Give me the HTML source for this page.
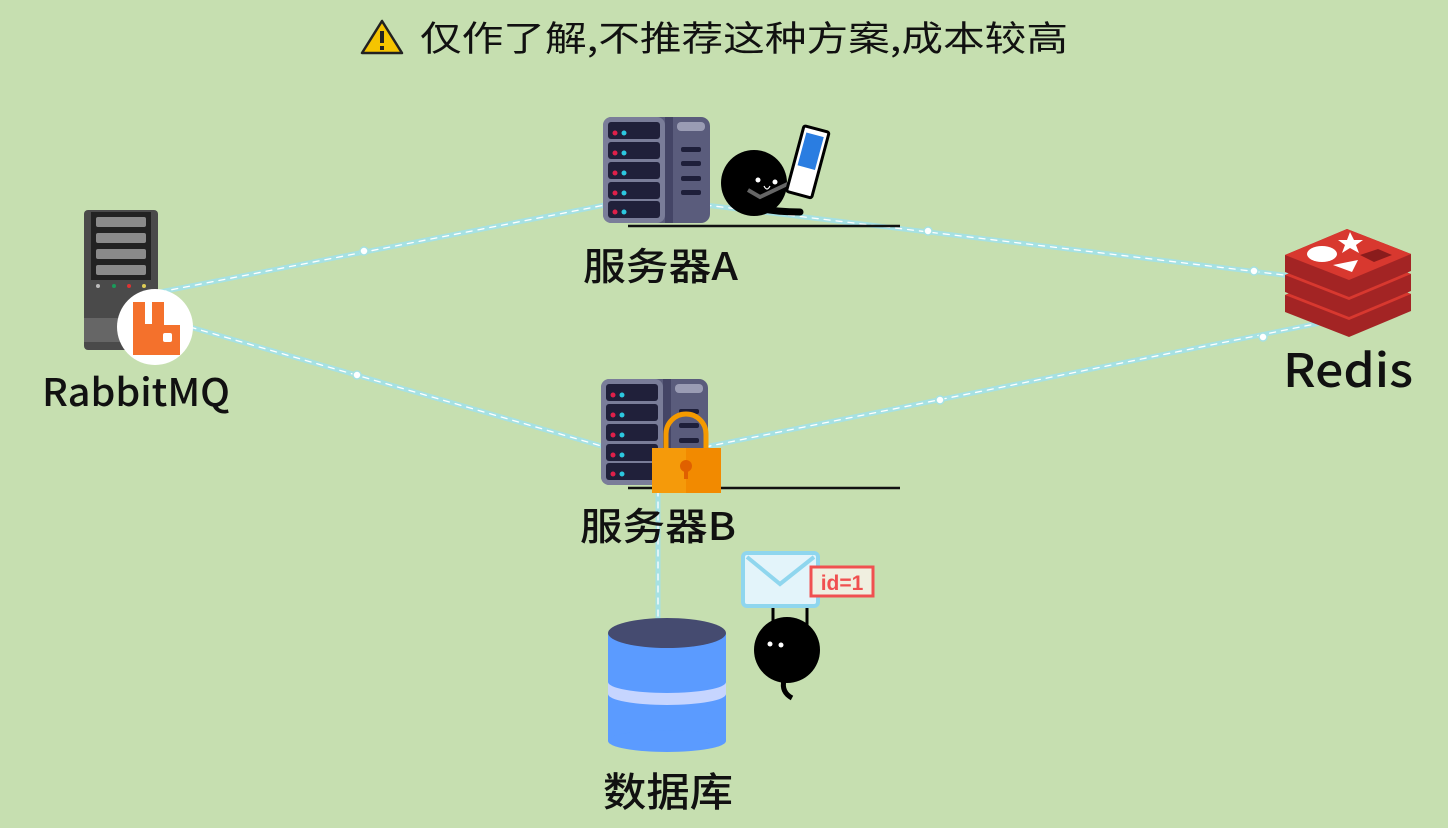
<!DOCTYPE html>
<html><head><meta charset="utf-8"><style>
html,body{margin:0;padding:0;width:1448px;height:828px;overflow:hidden;background:#c6dfb0}
svg text{font-family:"Noto Sans CJK SC","Liberation Sans",sans-serif;font-weight:500}
</style></head><body>
<svg width="1448" height="828" viewBox="0 0 1448 828" xmlns="http://www.w3.org/2000/svg">
<rect width="1448" height="828" fill="#c6dfb0"/>
<!-- title -->
<polygon points="382,21 362,53 402,53" fill="#f5c400" stroke="#222" stroke-width="2.5" stroke-linejoin="round"/>
<rect x="380" y="31" width="4" height="12" fill="#222"/><rect x="380" y="46" width="4" height="4" fill="#222"/>
<text x="420" y="51" font-size="35" fill="#111" style="font-weight:400" textLength="648" lengthAdjust="spacingAndGlyphs">仅作了解,不推荐这种方案,成本较高</text>
<!-- lines -->
<g fill="none" stroke-linecap="round">
<g stroke="#a6e1e3" stroke-width="5">
<line x1="160" y1="292" x2="605" y2="205"/>
<line x1="190" y1="327" x2="605" y2="447"/>
<line x1="705" y1="205" x2="1292" y2="276"/>
<line x1="705" y1="447" x2="1320" y2="323"/>
<line x1="658" y1="490" x2="658" y2="620"/>
</g>
<g stroke="#fff" stroke-width="1.3" stroke-dasharray="6 6">
<line x1="160" y1="292" x2="605" y2="205"/>
<line x1="190" y1="327" x2="605" y2="447"/>
<line x1="705" y1="205" x2="1292" y2="276"/>
<line x1="705" y1="447" x2="1320" y2="323"/>
<line x1="658" y1="490" x2="658" y2="620"/>
</g>
</g>
<g fill="#fff" stroke="#a6e1e3" stroke-width="1.5">
<circle cx="364" cy="251" r="4"/><circle cx="357" cy="375" r="4"/><circle cx="928" cy="231" r="4"/><circle cx="1254" cy="271" r="4"/><circle cx="940" cy="400" r="4"/><circle cx="1263" cy="337" r="4"/>
</g>
<!-- RabbitMQ server -->
<rect x="84" y="210" width="74" height="140" rx="4" fill="#4a4a4a"/>
<rect x="91" y="212" width="60" height="68" fill="#222"/>
<g fill="#8a8a8a"><rect x="96" y="217" width="50" height="10" rx="2"/><rect x="96" y="233" width="50" height="10" rx="2"/><rect x="96" y="249" width="50" height="10" rx="2"/><rect x="96" y="265" width="50" height="10" rx="2"/></g>
<circle cx="98" cy="286" r="2" fill="#bbb"/><circle cx="114" cy="286" r="2" fill="#1a9a5a"/><circle cx="129" cy="286" r="2" fill="#d33"/><circle cx="144" cy="286" r="2" fill="#dc5"/>
<rect x="84" y="318" width="74" height="24" fill="#666"/>
<circle cx="155" cy="327" r="38" fill="#fff"/>
<path d="M133,302 h12 v22 h7 v-22 h12 v23 h16 v30 h-47 z" fill="#f4712c"/>
<rect x="163" y="333" width="9" height="9" rx="2" fill="#fff"/>
<text x="42" y="406" font-size="38" fill="#111" textLength="188" lengthAdjust="spacingAndGlyphs">RabbitMQ</text>
<!-- server A -->
<g id="srv">
<rect x="603" y="117" width="107" height="106" rx="9" fill="#5a5c7c"/>
<rect x="603" y="117" width="62" height="106" rx="8" fill="#7a7d99"/>
<rect x="665" y="117" width="8" height="106" fill="#444566"/>
<g fill="#20203a"><rect x="608" y="122" width="52" height="17" rx="3"/><rect x="608" y="142" width="52" height="17" rx="3"/><rect x="608" y="162" width="52" height="17" rx="3"/><rect x="608" y="182" width="52" height="17" rx="3"/><rect x="608" y="201" width="52" height="17" rx="3"/></g>
<g fill="#e0204a"><circle cx="615" cy="133" r="2.5"/><circle cx="615" cy="153" r="2.5"/><circle cx="615" cy="173" r="2.5"/><circle cx="615" cy="193" r="2.5"/><circle cx="615" cy="212" r="2.5"/></g>
<g fill="#2cc8e0"><circle cx="624" cy="133" r="2.5"/><circle cx="624" cy="153" r="2.5"/><circle cx="624" cy="173" r="2.5"/><circle cx="624" cy="193" r="2.5"/><circle cx="624" cy="212" r="2.5"/></g>
<rect x="677" y="122" width="28" height="9" rx="4" fill="#9a9cb4"/>
<g fill="#1e1f3a"><rect x="681" y="147" width="20" height="5" rx="2"/><rect x="681" y="161" width="20" height="5" rx="2"/><rect x="681" y="176" width="20" height="5" rx="2"/><rect x="681" y="190" width="20" height="5" rx="2"/></g>
</g>
<line x1="628" y1="226" x2="900" y2="226" stroke="#111" stroke-width="2.5"/>
<!-- character A -->
<circle cx="754" cy="183" r="33" fill="#000"/>
<path d="M745,204 q20,8 55,8" stroke="#000" stroke-width="7" fill="none" stroke-linecap="round"/>
<circle cx="758" cy="180" r="2.5" fill="#fff"/><circle cx="775" cy="182" r="2.5" fill="#fff"/>
<path d="M764,186 q3,6 6,0" stroke="#fff" stroke-width="1.2" fill="none"/>
<path d="M748,190 l12,7 l38,-18" stroke="#666" stroke-width="4" fill="none"/>
<g transform="rotate(15 808 165)"><rect x="794" y="128" width="26" height="68" rx="2" fill="#fff" stroke="#000" stroke-width="3"/><rect x="798" y="134" width="18" height="34" fill="#2a7de1"/></g>
<text x="583" y="280" font-size="38" fill="#111" textLength="155" lengthAdjust="spacingAndGlyphs">服务器A</text>
<!-- server B -->
<use href="#srv" transform="translate(-2,262)"/>
<line x1="628" y1="488" x2="900" y2="488" stroke="#111" stroke-width="2.5"/>
<path d="M666,450 v-16 a20,20 0 0 1 40,0 v16" fill="none" stroke="#f59a00" stroke-width="5"/>
<rect x="652" y="448" width="69" height="45" fill="#f59a0a"/>
<rect x="686" y="448" width="35" height="45" fill="#f28a00"/>
<circle cx="686" cy="466" r="6" fill="#e06000"/><rect x="684" y="466" width="4" height="13" fill="#e06000"/>
<text x="580" y="540" font-size="38" fill="#111" textLength="156" lengthAdjust="spacingAndGlyphs">服务器B</text>
<!-- envelope character -->
<rect x="743" y="553" width="75" height="53" rx="4" fill="#e3f4fa" stroke="#8fd6ee" stroke-width="4"/>
<path d="M747,557 l33,27 l34,-27" fill="none" stroke="#8fd6ee" stroke-width="4"/>
<rect x="811" y="567" width="62" height="29" fill="#f0efe0" stroke="#f05050" stroke-width="3"/>
<text x="842" y="590" font-size="21" fill="#f05050" text-anchor="middle" style="font-family:'Liberation Sans',sans-serif;font-weight:bold">id=1</text>
<line x1="773" y1="608" x2="773" y2="625" stroke="#000" stroke-width="3"/><line x1="807" y1="608" x2="807" y2="625" stroke="#000" stroke-width="3"/>
<circle cx="787" cy="650" r="33" fill="#000"/>
<path d="M784,680 q-3,12 8,18" stroke="#000" stroke-width="5" fill="none"/>
<circle cx="770" cy="644" r="2.5" fill="#fff"/><circle cx="781" cy="645" r="2.5" fill="#fff"/>
<!-- database -->
<rect x="608" y="633" width="118" height="108" fill="#5b9bff"/>
<ellipse cx="667" cy="741" rx="59" ry="11" fill="#5b9bff"/>
<path d="M608,682 a59,11 0 0 0 118,0 v12 a59,11 0 0 1 -118,0 z" fill="#c6d5ff"/>
<ellipse cx="667" cy="633" rx="59" ry="15" fill="#454b70"/>
<text x="603" y="806" font-size="40" fill="#111" textLength="130" lengthAdjust="spacingAndGlyphs">数据库</text>
<!-- redis -->
<g>
<path d="M1285,295 l62,-26 l64,25 v17 l-62,26 l-64,-25 z" fill="#a32424"/>
<path d="M1285,295 l62,-26 l64,25 l-62,26 z" fill="#d8382f"/>
<path d="M1285,275 l62,-26 l64,25 v17 l-62,26 l-64,-25 z" fill="#a32424"/>
<path d="M1285,275 l62,-26 l64,25 l-62,26 z" fill="#d8382f"/>
<path d="M1285,255 l62,-26 l64,25 v17 l-62,26 l-64,-25 z" fill="#a32424"/>
<path d="M1285,255 l62,-26 l64,25 l-62,26 z" fill="#d8382f"/>
<ellipse cx="1322" cy="254" rx="15" ry="8" fill="#fff"/>
<polygon points="1333,265 1358,260 1352,272" fill="#fff"/>
<polygon points="1350,232 1354,240 1363,240 1356,245 1359,253 1350,248 1342,253 1345,245 1338,240 1347,240" fill="#fff"/>
<polygon points="1360,255 1378,249 1392,255 1374,262" fill="#8a1c1c"/>
</g>
<text x="1283" y="387" font-size="46" fill="#111" textLength="130" lengthAdjust="spacingAndGlyphs">Redis</text>
</svg>
</body></html>
